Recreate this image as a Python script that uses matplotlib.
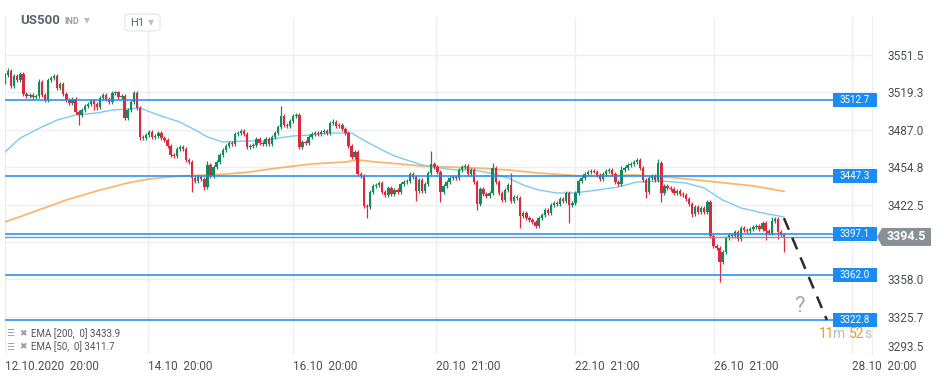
import numpy as np
import matplotlib
matplotlib.use("Agg")
import matplotlib.pyplot as plt
import matplotlib.transforms as mtrans
from matplotlib.patches import Rectangle, Polygon, FancyBboxPatch

plt.rcParams['font.family'] = ['Roboto', 'DejaVu Sans']

# hourly closes, US500 (open = previous close)
open0 = 3528.2
closes = [
    3534.2, 3537.7, 3524.7, 3533.4, 3529.9, 3535.1, 3517.8, 3516.1, 3517.0, 3515.3,
    3516.1, 3528.2, 3517.0, 3512.7, 3529.9, 3531.7, 3533.4, 3523.0, 3526.5, 3517.8,
    3512.7, 3510.1, 3513.5, 3502.3, 3499.7, 3504.0, 3507.5, 3509.2, 3511.8, 3509.2,
    3506.6, 3514.4, 3517.0, 3513.5, 3510.9, 3518.7, 3519.2, 3515.3, 3516.1, 3497.1,
    3504.0, 3510.9, 3518.7, 3505.8, 3480.8, 3479.9, 3482.5, 3485.1, 3480.8, 3481.6,
    3484.2, 3479.9, 3478.2, 3473.0, 3465.2, 3464.4, 3470.4, 3472.1, 3470.4, 3460.9,
    3459.2, 3445.4, 3442.8, 3446.2, 3444.5, 3437.6, 3456.6, 3447.1, 3454.9, 3459.2,
    3465.2, 3469.5, 3473.0, 3475.6, 3474.7, 3483.3, 3484.2, 3485.9, 3483.3, 3472.1,
    3473.0, 3473.8, 3479.0, 3475.6, 3474.7, 3479.0, 3474.7, 3480.8, 3484.2, 3489.4,
    3498.9, 3491.1, 3490.2, 3494.6, 3498.9, 3499.7, 3472.1, 3476.4, 3475.6, 3480.8,
    3483.3, 3484.2, 3483.3, 3485.1, 3485.9, 3484.2, 3492.8, 3493.5, 3490.2, 3491.1,
    3487.7, 3484.2, 3473.0, 3463.5, 3467.8, 3448.8, 3447.1, 3421.2, 3420.4, 3433.3,
    3438.5, 3439.3, 3441.1, 3433.3, 3430.7, 3436.7, 3431.6, 3435.0, 3433.3, 3440.2,
    3441.9, 3442.8, 3448.8, 3446.2, 3434.2, 3443.6, 3434.2, 3440.2, 3449.7, 3457.5,
    3454.9, 3450.5, 3433.3, 3438.5, 3441.9, 3445.4, 3446.2, 3445.4, 3452.3, 3454.9,
    3455.7, 3448.8, 3452.3, 3441.9, 3422.9, 3435.9, 3431.6, 3429.8, 3432.4, 3454.0,
    3441.9, 3432.4, 3426.4, 3435.0, 3439.3, 3425.5, 3429.0, 3428.1, 3412.6, 3415.2,
    3410.9, 3409.1, 3407.4, 3404.0, 3410.9, 3413.5, 3417.8, 3415.2, 3422.1, 3423.8,
    3422.9, 3427.3, 3425.5, 3432.4, 3422.1, 3423.8, 3432.4, 3442.8, 3445.4, 3448.8,
    3450.5, 3451.4, 3450.9, 3448.0, 3444.5, 3448.8, 3451.4, 3452.3, 3448.8, 3441.9,
    3440.2, 3452.3, 3454.0, 3456.6, 3457.5, 3459.2, 3460.9, 3454.0, 3443.6, 3433.3,
    3445.4, 3447.1, 3443.6, 3458.3, 3432.4, 3438.5, 3436.7, 3435.9, 3432.4, 3434.2,
    3431.6, 3430.7, 3427.3, 3422.9, 3414.3, 3420.4, 3416.0, 3419.5, 3416.0, 3424.7,
    3395.3, 3386.7, 3385.0, 3372.9, 3381.5, 3393.6, 3396.2, 3395.3, 3398.8, 3392.7,
    3402.2, 3400.5, 3399.6, 3401.4, 3403.1, 3404.0, 3401.4, 3406.5, 3399.6, 3397.9,
    3408.3, 3410.0, 3398.8, 3396.2, 3394.5,
]
# long wicks (candle index -> price)
highs = {1: 3540.3, 11: 3531.0, 66: 3460.0, 90: 3507.5, 107: 3496.0, 139: 3468.7,
         159: 3458.0, 165: 3449.7, 201: 3456.0, 213: 3462.0, 230: 3426.4, 250: 3411.5}
lows = {24: 3491.1, 29: 3504.0, 30: 3504.0, 44: 3478.2, 61: 3433.3, 65: 3435.0,
        96: 3470.4, 118: 3410.9, 134: 3425.5, 142: 3424.7, 154: 3417.8, 168: 3402.2,
        173: 3402.0, 184: 3406.5, 209: 3428.1, 214: 3424.7, 224: 3412.0, 233: 3355.6,
        248: 3391.9, 252: 3392.7, 254: 3381.5}

ema200_idx = [0, 11, 20, 31, 40, 47, 57, 68, 78, 89, 100, 111, 115, 121, 127, 136,
              153, 164, 174, 188, 205, 219, 232, 244, 254]
ema200 = [3407.4, 3417.8, 3426.4, 3435.0, 3441.1, 3444.5, 3447.1, 3448.0, 3450.0,
          3454.0, 3457.5, 3459.2, 3460.9, 3459.2, 3457.9, 3455.7, 3454.0, 3452.3,
          3449.7, 3447.1, 3448.0, 3445.4, 3441.9, 3438.5, 3433.9]
ema50_idx = [0, 5, 12, 17, 23, 30, 35, 40, 44, 50, 57, 62, 66, 71, 78, 84, 89, 94,
             100, 105, 113, 118, 123, 127, 131, 136, 142, 147, 153, 158, 164, 169,
             174, 180, 185, 191, 200, 206, 214, 222, 228, 234, 240, 247, 254]
ema50 = [3467.8, 3479.9, 3489.4, 3495.4, 3499.7, 3501.5, 3504.0, 3504.9, 3505.8,
         3499.7, 3493.7, 3486.8, 3480.8, 3476.4, 3477.3, 3477.3, 3479.9, 3481.6,
         3482.5, 3484.2, 3484.2, 3476.4, 3469.5, 3464.4, 3460.9, 3456.6, 3454.0,
         3452.3, 3452.3, 3449.7, 3445.4, 3439.3, 3435.0, 3432.4, 3432.4, 3434.2,
         3437.6, 3441.9, 3442.8, 3441.1, 3436.7, 3426.4, 3419.5, 3415.2, 3411.7]

levels = [3512.7, 3447.3, 3397.1, 3362.0, 3322.8]
last_price = 3394.5
yticks = [3551.5, 3519.3, 3487.0, 3454.8, 3422.5, 3390.3, 3358.0, 3325.7, 3293.5]
ytick_labels = ['3551.5', '3519.3', '3487.0', '3454.8', '3422.5', '', '3358.0', '3325.7', '3293.5']
xtick_pos = [0, 46.6, 93.9, 140.5, 185.9, 231.2, 276.2]
xtick_labels = ['12.10.2020  20:00', '14.10  20:00', '16.10  20:00', '20.10  21:00',
                '22.10  21:00', '26.10  21:00', '28.10  20:00']
target_level = 3322.8

GREEN = '#138a5c'
RED = '#db2a3d'
BLUE = '#1a8cf2'
TXT = '#4a4f55'

fig = plt.figure(figsize=(9.45, 3.8), dpi=100)
W, H = 945., 380.
ax = fig.add_axes([5 / W, 26 / H, 867 / W, 337 / H])
ax.set_xlim(0, 282.7)
ax.set_ylim(3293.5, 3584.3)

# grid
for v in yticks:
    ax.axhline(v, color='#eeeeee', lw=1, zorder=0)
for v in xtick_pos:
    ax.axvline(v, color='#eeeeee', lw=1, zorder=0)
for s in ['top', 'left', 'bottom']:
    ax.spines[s].set_visible(False)
ax.spines['right'].set_color('#eeeeee')

# candles
opens = [open0] + closes[:-1]
for i, (o, c) in enumerate(zip(opens, closes)):
    col = GREEN if c >= o else RED
    hi = highs.get(i, max(o, c) + 1.5)
    lo = lows.get(i, min(o, c) - 1.5)
    ax.vlines(i, lo, hi, color=col, lw=0.9, zorder=3)
    ax.bar(i, max(abs(c - o), 0.9), bottom=min(o, c), width=0.78, color=col,
           lw=0, zorder=3)

# EMAs
ax.plot(ema200_idx, ema200, color='#f7a64a', lw=1.3, alpha=0.8, zorder=2)
ax.plot(ema50_idx, ema50, color='#7ccbf1', lw=1.0, zorder=2)

# support / resistance levels
blend = mtrans.blended_transform_factory(ax.transAxes, ax.transData)
hpx = 337 / (3584.3 - 3293.5)  # px per point
for lv in levels:
    ax.axhline(lv, color=BLUE, lw=1.1, zorder=4)
    ax.add_patch(Rectangle(((833 - 5) / 867, lv - 7 / hpx), 44 / 867, 14 / hpx,
                           transform=blend, fc=BLUE, ec='none', clip_on=False, zorder=6))
    ax.text(850 / 867, lv, '%.1f' % lv, transform=blend, ha='center',
            va='center', color='white', fontsize=7, zorder=7, clip_on=False)

# last price line and tag
ax.axhline(last_price, color='#8e969b', lw=1.0, zorder=4)
fblend = mtrans.blended_transform_factory(fig.transFigure, ax.transData)
hh = 9 / hpx
tag = Polygon([(877 / W, last_price), (882 / W, last_price + hh), (931 / W, last_price + hh),
               (931 / W, last_price - hh), (882 / W, last_price - hh)],
              closed=True, transform=fblend, fc='#8a9195', ec='none', clip_on=False, zorder=6)
ax.add_patch(tag)
ax.text(906 / W, last_price, '%.1f' % last_price, transform=fblend, ha='center',
        va='center', color='white', fontsize=9, fontweight='bold', zorder=7)

# forecast arrow
n = len(closes) - 1
ax.plot([n, n + 14], [ema50[-1] - 1, target_level], color='#2b2b2b', lw=1.8,
        ls=(0, (5, 3.5)), zorder=5, clip_on=False)
ax.text(n + 5, target_level + 12, '?', color='#a3acb4', fontsize=16, ha='center',
        va='center', zorder=5)

# countdown
cy = 1 - 334 / H
fig.text(819 / W, cy, '11', color='#f59a23', fontsize=10, va='center')
fig.text(833 / W, cy, 'm', color='#b8bdc2', fontsize=10, va='center')
fig.text(849 / W, cy, '52', color='#f59a23', fontsize=10, va='center')
fig.text(864 / W, cy, 's', color='#b8bdc2', fontsize=10, va='center')

# axes ticks
ax.yaxis.tick_right()
ax.set_yticks(yticks)
ax.set_yticklabels(ytick_labels)
ax.tick_params(axis='y', length=0, pad=11, labelsize=8.5, labelcolor=TXT)
ax.set_xticks(xtick_pos)
ax.set_xticklabels(xtick_labels, ha='left')
ax.tick_params(axis='x', length=0, pad=4, labelsize=8.5, labelcolor=TXT)
ax.get_yticklabels()[-1].set_va('bottom')

# header
fig.text(20 / W, 1 - 21 / H, 'US500', color='#5b636c', fontsize=9.5, fontweight='bold', va='center')
fig.text(64 / W, 1 - 21 / H, 'IND', color='#9aa2aa', fontsize=6.5, fontweight='bold', va='center')
fig.text(84 / W, 1 - 21 / H, '\u25BC', color='#b9c0c6', fontsize=5.5, va='center')
fig.patches.append(FancyBboxPatch((125 / W, 1 - 31 / H), 35 / W, 17 / H,
                                  boxstyle='round,pad=0,rounding_size=0.006',
                                  transform=fig.transFigure, fc='white', ec='#e2e5e8', lw=0.8))
fig.text(130 / W, 1 - 22.5 / H, 'H1', color='#5b636c', fontsize=8, va='center')
fig.text(148 / W, 1 - 22.5 / H, '\u25BC', color='#b9c0c6', fontsize=5.5, va='center')

# indicator legend
for yy, lab in [(334, 'EMA [200,  0] 3433.9'), (347, 'EMA [50,  0] 3411.7')]:
    fig.text(6 / W, 1 - yy / H, '\u2630', color='#9a9a9a', fontsize=6.5, va='center')
    fig.text(19 / W, 1 - yy / H, '\u2716', color='#9a9a9a', fontsize=6.5, va='center')
    fig.text(31 / W, 1 - yy / H, lab, color='#555555', fontsize=7, va='center')

fig.savefig('out.png', dpi=100)
